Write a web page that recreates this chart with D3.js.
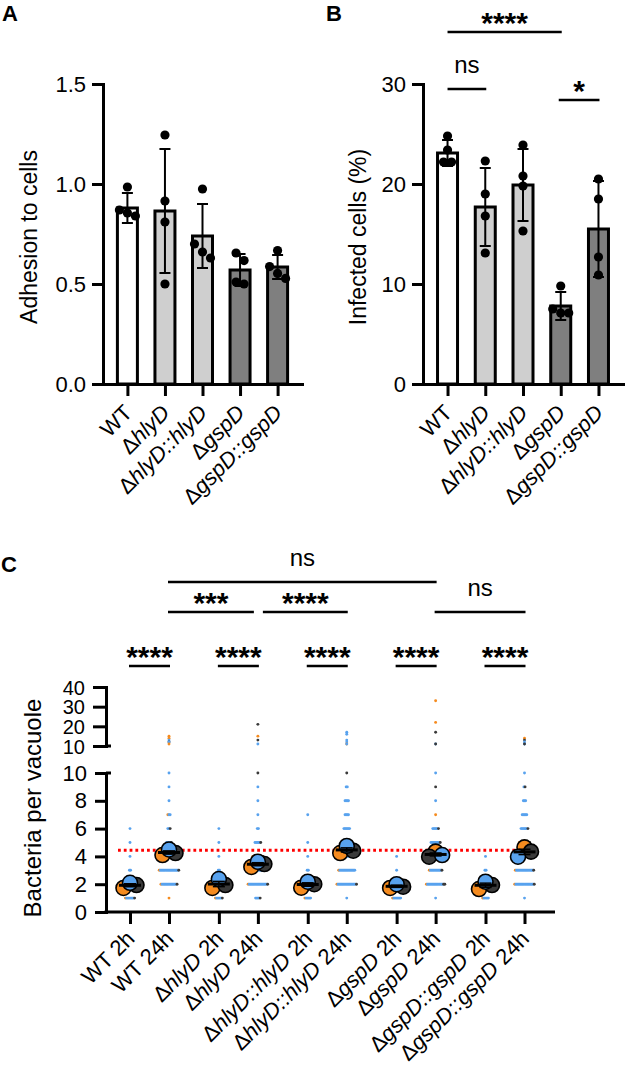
<!DOCTYPE html>
<html><head><meta charset="utf-8">
<script src="https://cdn.jsdelivr.net/npm/d3@7"></script>
<style>
body{margin:0;background:#fff}
svg{display:block}
text{font-family:"Liberation Sans",Arial,sans-serif;fill:#000;white-space:pre}
</style>
</head><body>
<svg id="c" width="626" height="1072"></svg>
<script>
// ---------------- DATA ----------------
const strains = ["WT","ΔhlyD","ΔhlyD::hlyD","ΔgspD","ΔgspD::gspD"];

// Panel A: adhesion to cells
const adhesionMean = [0.88, 0.865, 0.74, 0.57, 0.585];
const adhesionSD   = [0.075, 0.31, 0.16, 0.08, 0.06];
const adhesionPoints = [
  [0.985, 0.87, 0.855, 0.84],
  [1.245, 0.915, 0.81, 0.50],
  [0.975, 0.70, 0.66, 0.63],
  [0.655, 0.617, 0.51, 0.50],
  [0.667, 0.587, 0.553, 0.528]
];
const adhesionTicks = [0, 0.5, 1.0, 1.5];

// Panel B: infected cells (%)
const infectedMean = [23.1, 17.7, 19.9, 7.8, 15.5];
const infectedSD   = [1.3, 3.9, 3.6, 1.4, 4.8];
const infectedPoints = [
  [24.8, 23.4, 22.2, 22.2],
  [22.3, 19.0, 16.8, 13.1],
  [23.9, 20.8, 19.8, 15.3],
  [9.8, 7.5, 7.1, 7.1],
  [20.5, 18.5, 12.7, 10.9]
];
const infectedTicks = [0, 10, 20, 30];
// [from index, to index, label, height in data units]
const sigB = [[0, 1, "ns", 29.5], [0, 3, "****", 35.2], [3, 4, "*", 28.4]];

// Panel C: bacteria per vacuole
const conditions = ["WT 2h","WT 24h","ΔhlyD 2h","ΔhlyD 24h","ΔhlyD::hlyD 2h","ΔhlyD::hlyD 24h",
                    "ΔgspD 2h","ΔgspD 24h","ΔgspD::gspD 2h","ΔgspD::gspD 24h"];
const lowTicks = [0, 2, 4, 6, 8, 10];
const highTicks = [10, 20, 30, 40];
const referenceLine = 4.45;
// replicate means (three biological replicates)
const repMeansOrange = [1.73, 4.10, 1.73, 3.24, 1.75, 4.24, 1.73, 4.34, 1.65, 4.65];
const repMeansBlue   = [2.10, 4.50, 2.37, 3.62, 2.18, 4.75, 2.00, 4.10, 2.18, 3.98];
const repMeansDark   = [1.94, 4.24, 1.94, 3.45, 2.00, 4.41, 1.82, 3.98, 1.94, 4.34];
// individual vacuole counts: number of vacuoles with 1..10 bacteria, per replicate
const countsBlue = [
  [7,12,2,1,1,1,0,0,0,0],
  [0,13,16,12,4,2,2,1,1,1],
  [5,10,2,1,1,1,0,0,0,0],
  [4,16,12,8,5,2,1,1,1,0],
  [5,12,2,1,1,0,1,0,0,0],
  [1,16,14,10,6,6,4,4,2,0],
  [7,13,1,1,0,0,0,0,0,0],
  [1,14,10,8,8,5,0,1,0,1],
  [5,12,2,1,0,0,0,0,0,0],
  [1,16,15,10,8,6,5,3,1,1]
];
const countsOrange = [
  [1,3,0,0,0,0,0,0,0,0],
  [1,1,1,1,0,0,1,0,0,0],
  [1,3,0,0,0,0,0,0,0,0],
  [0,1,1,1,0,0,0,0,0,0],
  [1,2,0,0,0,0,0,0,0,0],
  [0,1,1,1,0,0,0,0,0,0],
  [1,2,0,0,0,0,0,0,0,0],
  [0,1,1,1,0,0,1,0,0,0],
  [1,2,0,0,0,0,0,0,0,0],
  [0,1,1,1,1,0,0,0,0,0]
];
const countsDark = [
  [1,3,0,0,0,0,0,0,0,0],
  [0,1,1,1,1,1,0,0,0,0],
  [1,2,0,0,0,0,0,0,0,0],
  [1,1,1,1,1,0,0,0,0,1],
  [0,3,0,0,0,0,0,0,0,0],
  [0,1,0,1,0,0,0,0,0,1],
  [0,2,0,0,0,0,0,0,0,0],
  [0,2,1,1,1,1,0,0,1,0],
  [0,3,0,0,0,0,0,0,0,0],
  [0,1,1,1,1,1,0,0,1,0]
];
// vacuoles with more than 10 bacteria: [condition index, count, replicate]
const highCounts = [
  [1,15,"orange"],[1,14,"orange"],[1,13,"blue"],[1,12,"dark"],[1,12,"blue"],[1,11,"orange"],
  [3,21,"dark"],[3,15,"orange"],[3,13,"dark"],[3,11,"blue"],
  [5,17,"blue"],[5,16,"blue"],[5,13,"blue"],[5,12,"blue"],[5,11,"orange"],[5,11,"blue"],
  [7,33,"orange"],[7,22,"orange"],[7,17,"dark"],[7,11,"blue"],[7,11,"dark"],
  [9,14,"orange"],[9,13,"dark"],[9,12,"blue"],[9,11,"blue"],[9,11,"dark"]
];
// [from condition, to condition, label, tier]
const sigC = [
  [1,7,"ns",3],[1,3,"***",2],[3,5,"****",2],[7,9,"ns",2],
  [0,1,"****",1],[2,3,"****",1],[4,5,"****",1],[6,7,"****",1],[8,9,"****",1]
];

// ---------------- STYLE ----------------
const barFills = ["#ffffff","#cfcfcf","#cfcfcf","#7f7f7f","#7f7f7f"];
const repColors = {orange:"#f58b1f", blue:"#58a2ee", dark:"#3a3a3a"};
const FONT = 22;

const svg = d3.select("#c");

function styleAxis(g, size){
  g.selectAll(".domain").attr("stroke","#000").attr("stroke-width",3).attr("stroke-linecap","square");
  g.selectAll(".tick line").attr("stroke","#000").attr("stroke-width",3);
  g.selectAll(".tick text").attr("font-size",size||FONT).attr("font-family","Liberation Sans, Arial, sans-serif").attr("fill","#000");
}

function addLabel(g, x, y, label, size){
  const t = g.append("text")
    .attr("transform",`translate(${x},${y}) rotate(-45)`)
    .attr("text-anchor","end").attr("font-size",size);
  let rest = label;
  if (rest.startsWith("Δ")) {
    t.append("tspan").text("Δ");
    rest = rest.slice(1);
    const sp = rest.indexOf(" ");
    const gene = sp < 0 ? rest : rest.slice(0, sp);
    t.append("tspan").attr("font-style","italic").text(gene);
    if (sp >= 0) t.append("tspan").text(rest.slice(sp));
  } else t.append("tspan").text(rest);
}

function dodge(values, y, r, step){
  const idx = values.map((v,i)=>i).sort((a,b)=>values[b]-values[a]);
  const off = new Array(values.length).fill(0);
  let cluster = [idx[0]];
  const flush = () => {
    const k = cluster.length;
    cluster.forEach((id,j)=>{ off[id] = (j-(k-1)/2)*step; });
  };
  for (let j=1;j<idx.length;j++){
    const prev = cluster[cluster.length-1];
    if (Math.abs(y(values[idx[j]])-y(values[prev])) < 2*r) cluster.push(idx[j]);
    else { flush(); cluster=[idx[j]]; }
  }
  flush();
  return off;
}

function barPanel(o){
  const g = svg.append("g");
  const x = d3.scalePoint().domain(strains).range([o.x0, o.x1]).padding(0.65);
  const y = d3.scaleLinear().domain(o.domain).range([o.yBottom, o.yTop]);
  const barW = 20;
  g.selectAll("rect.bar").data(strains).join("rect").attr("class","bar")
    .attr("x", d=>x(d)-barW/2).attr("width", barW)
    .attr("y", (d,i)=>y(o.means[i])).attr("height",(d,i)=>y(0)-y(o.means[i]))
    .attr("fill",(d,i)=>barFills[i]).attr("stroke","#000").attr("stroke-width",3);
  strains.forEach((s,i)=>{
    const cx = x(s), hi = y(o.means[i]+o.sds[i]), lo = y(o.means[i]-o.sds[i]);
    g.append("line").attr("x1",cx).attr("x2",cx).attr("y1",hi).attr("y2",lo).attr("stroke","#000").attr("stroke-width",2);
    [hi,lo].forEach(yy=>g.append("line").attr("x1",cx-5.5).attr("x2",cx+5.5).attr("y1",yy).attr("y2",yy).attr("stroke","#000").attr("stroke-width",2));
    const offs = dodge(o.points[i], y, 4.5, 8);
    o.points[i].forEach((v,j)=>{
      g.append("circle").attr("cx",cx+offs[j]).attr("cy",y(v)).attr("r",4.6).attr("fill","#000");
    });
  });
  const ya = g.append("g").attr("transform",`translate(${o.x0},0)`)
    .call(d3.axisLeft(y).tickValues(o.ticks).tickFormat(o.fmt).tickSize(11).tickSizeOuter(0).tickPadding(6));
  styleAxis(ya);
  const xa = g.append("g").attr("transform",`translate(0,${o.yBottom})`)
    .call(d3.axisBottom(x).tickSize(12).tickSizeOuter(0).tickFormat(""));
  styleAxis(xa);
  strains.forEach(s=>addLabel(g, x(s)+6, o.yBottom+30, s, FONT));
  g.append("text").attr("transform",`translate(${o.titleX},${(o.yBottom+o.yTop)/2+3}) rotate(-90)`)
    .attr("text-anchor","middle").attr("font-size",23).text(o.title);
  g.append("text").attr("x",o.letterX).attr("y",21).attr("font-size",22).attr("font-weight","bold").text(o.letter);
  return {x,y,g};
}

// Panel A
barPanel({x0:103, x1:302, yBottom:384, yTop:84, domain:[0,1.5], means:adhesionMean, sds:adhesionSD,
  points:adhesionPoints, ticks:adhesionTicks, fmt:d3.format(".1f"), title:"Adhesion to cells", titleX:37,
  letter:"A", letterX:2});

// Panel B
const pB = barPanel({x0:423, x1:623, yBottom:384, yTop:84, domain:[0,30], means:infectedMean, sds:infectedSD,
  points:infectedPoints, ticks:infectedTicks, fmt:d3.format("d"), title:"Infected cells (%)", titleX:366,
  letter:"B", letterX:326});
sigB.forEach(([a,b,label,h])=>{
  const yy = pB.y(h);
  const x1 = pB.x(strains[a]) - (a===3?2:0), x2 = pB.x(strains[b]) + 1;
  pB.g.append("line").attr("x1",x1).attr("x2",x2).attr("y1",yy).attr("y2",yy).attr("stroke","#000").attr("stroke-width",2.5);
  const isStar = label.includes("*");
  pB.g.append("text").attr("x",(x1+x2)/2).attr("y", isStar ? yy+1 : yy-16)
    .attr("text-anchor","middle").attr("font-size", isStar?30:24).attr("font-weight", isStar?"bold":"normal").text(label);
});

// Panel C
(function(){
  const g = svg.append("g");
  const xAxisY = 912, yAxisX = 106;
  const groupX = d3.scalePoint().domain(strains).range([149.5, 505]);
  const condPos = conditions.map((c,i)=>groupX(strains[Math.floor(i/2)]) + (i%2===0 ? -19.5 : 19.5));
  const xC = d3.scaleOrdinal().domain(conditions).range(condPos);
  const yLo = d3.scaleLinear().domain([0,10]).range([xAxisY, 773]);
  const yHi = d3.scaleLinear().domain([10,40]).range([746, 687]);
  const yC = v => v <= 10 ? yLo(v) : yHi(v);

  const dotR = 1.45, dotStep = 1.15;
  conditions.forEach((c,i)=>{
    const cx = xC(c);
    for (let v=1; v<=10; v++){
      const row = [];
      for (let k=0;k<countsOrange[i][v-1];k++) row.push("orange");
      for (let k=0;k<countsBlue[i][v-1];k++) row.push("blue");
      for (let k=0;k<countsDark[i][v-1];k++) row.push("dark");
      const n = row.length;
      row.forEach((col,j)=>{
        g.append("circle").attr("cx", cx + (j-(n-1)/2)*dotStep).attr("cy", yC(v)).attr("r",dotR).attr("fill",repColors[col]);
      });
    }
  });
  highCounts.forEach(([i,v,col])=>{
    g.append("circle").attr("cx", xC(conditions[i])).attr("cy", yC(v)).attr("r",dotR).attr("fill",repColors[col]);
  });

  g.append("line").attr("x1",118).attr("x2",530).attr("y1",yC(referenceLine)).attr("y2",yC(referenceLine))
    .attr("stroke","#ff0000").attr("stroke-width",3).attr("stroke-dasharray","2.8 3");

  const reps = [["orange",repMeansOrange],["dark",repMeansDark],["blue",repMeansBlue]];
  conditions.forEach((c,i)=>{
    const cx = xC(c);
    const vals = reps.map(r=>r[1][i]);
    const order = vals.map((v,k)=>k).sort((a,b)=>vals[a]-vals[b]);
    const offs = [];
    offs[order[0]] = -6.5; offs[order[1]] = 6.5; offs[order[2]] = 0;
    reps.forEach(([col,arr],k)=>{
      g.append("circle").attr("cx",cx+offs[k]).attr("cy",yC(arr[i])).attr("r",7.5)
        .attr("fill",repColors[col]).attr("stroke","#000").attr("stroke-width",1.6);
    });
    const m = d3.mean(vals), sem = d3.deviation(vals)/Math.sqrt(vals.length);
    g.append("line").attr("x1",cx).attr("x2",cx).attr("y1",yC(m-sem)).attr("y2",yC(m+sem)).attr("stroke","#000").attr("stroke-width",1.5);
    [m-sem,m+sem].forEach(v=>g.append("line").attr("x1",cx-6).attr("x2",cx+6).attr("y1",yC(v)).attr("y2",yC(v)).attr("stroke","#000").attr("stroke-width",1.5));
    g.append("line").attr("x1",cx-11).attr("x2",cx+11).attr("y1",yC(m)).attr("y2",yC(m)).attr("stroke","#000").attr("stroke-width",3);
  });

  const la = g.append("g").attr("transform",`translate(${yAxisX},0)`)
    .call(d3.axisLeft(yLo).tickValues(lowTicks).tickSize(11).tickSizeOuter(0).tickPadding(8));
  styleAxis(la);
  const ha = g.append("g").attr("transform",`translate(${yAxisX},0)`)
    .call(d3.axisLeft(yHi).tickValues(highTicks).tickSize(13).tickSizeOuter(0).tickPadding(8));
  styleAxis(ha, 20);
  ha.selectAll(".tick text").attr("dy","0.36em");
  [yLo(10), yHi(10)].forEach(yy=>g.append("line").attr("x1",yAxisX).attr("x2",yAxisX+5).attr("y1",yy).attr("y2",yy).attr("stroke","#000").attr("stroke-width",3));
  const xa = g.append("g").attr("transform",`translate(0,${xAxisY})`)
    .call(d3.axisBottom(xC).tickSize(12).tickSizeOuter(0).tickFormat(""));
  xa.select(".domain").remove();
  styleAxis(xa);
  g.append("line").attr("x1",yAxisX-1.5).attr("x2",555).attr("y1",xAxisY).attr("y2",xAxisY).attr("stroke","#000").attr("stroke-width",3);
  conditions.forEach(c=>addLabel(g, xC(c)+6, xAxisY+28, c, FONT));

  g.append("text").attr("transform",`translate(41,808) rotate(-90)`).attr("text-anchor","middle").attr("font-size",24).text("Bacteria per vacuole");
  g.append("text").attr("x",1).attr("y",572).attr("font-size",22).attr("font-weight","bold").text("C");

  const tierY = {1:666, 2:612, 3:582};
  sigC.forEach(([a,b,label,tier],idx)=>{
    const shared = (ci)=>sigC.some((s,j)=>j!==idx && s[3]===tier && (s[0]===ci||s[1]===ci));
    let x1 = xC(conditions[a]) - 1, x2 = xC(conditions[b]) + 1;
    if (shared(a)) x1 += 6;
    if (shared(b)) x2 -= 5;
    const yy = tierY[tier];
    g.append("line").attr("x1",x1).attr("x2",x2).attr("y1",yy).attr("y2",yy).attr("stroke","#000").attr("stroke-width",2.5);
    const isStar = label.includes("*");
    g.append("text").attr("x",(x1+x2)/2).attr("y", isStar ? yy+1 : yy-16)
      .attr("text-anchor","middle").attr("font-size", isStar?30:24).attr("font-weight", isStar?"bold":"normal").text(label);
  });
})();
</script>
</body></html>
